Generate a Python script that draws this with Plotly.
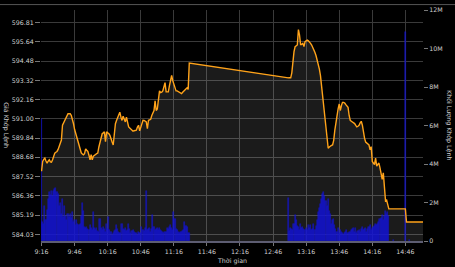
import pandas as pd
import plotly.graph_objects as go

DAY = "2024-01-01 "

# ---- price (Giá Khớp Lệnh) ----
am_price_start = "09:16"
am_price = [587.84, 588.43, 588.55, 588.63, 588.45, 588.33, 588.45, 588.53, 588.40, 588.38,
            588.53, 588.80, 588.93, 588.98, 589.03, 589.15, 589.32, 589.50, 589.72, 590.61,
            590.75, 590.85, 591.00, 591.20, 591.30, 591.30, 591.30, 591.20, 591.00, 590.70,
            590.35, 590.10, 589.90, 589.65, 589.45, 589.20, 588.95, 588.88, 588.83, 588.90,
            589.19, 589.10, 589.03, 588.80, 588.53, 588.83, 588.53, 588.75, 588.83, 588.85,
            588.90, 588.93, 589.30, 589.60, 589.95, 590.10, 590.15, 590.21, 589.62, 590.21,
            590.15, 590.11, 590.00, 589.85, 589.60, 589.42, 590.10, 590.70, 590.90, 591.05,
            591.20, 591.40, 591.10, 590.90, 591.16, 590.95, 590.81, 591.10, 590.80, 590.51,
            590.45, 590.40, 590.30, 590.25, 590.28, 590.30, 590.31, 590.50, 590.61, 590.27,
            590.50, 590.75, 590.91, 590.90, 590.85, 590.81, 590.41, 590.91, 590.94, 590.97,
            591.20, 591.40, 591.50, 592.09, 591.50, 591.59, 592.10, 592.68, 592.58, 592.60,
            592.68, 592.90, 593.18, 592.62, 592.62, 592.62, 593.00, 593.40, 593.61, 593.30,
            593.08, 592.80, 592.68, 592.68, 592.65, 592.58, 592.55, 592.52, 592.60, 592.68,
            592.75, 592.85, 592.87, 592.77, 594.36]
pm_price_start = "13:00"
pm_price = [593.47, 593.47, 593.47, 593.77, 594.60, 595.05, 595.35, 595.40, 595.45, 596.38,
            596.04, 595.45, 595.50, 595.55, 595.35, 595.65, 595.70, 595.74, 595.70, 595.65,
            595.55, 595.45, 595.30, 595.25, 595.00, 594.80, 594.56, 594.30, 594.00, 593.60,
            593.00, 592.50, 591.70, 591.00, 590.30, 589.80, 589.22, 589.30, 589.37, 589.40,
            589.42, 589.70, 590.30, 590.80, 591.30, 591.60, 591.89, 591.50, 591.80, 591.99,
            591.99, 591.95, 591.85, 591.80, 591.70, 591.20, 590.91, 590.85, 590.81, 590.75,
            590.71, 590.60, 590.51, 590.55, 590.61, 590.75, 590.85, 590.61, 590.10, 589.82,
            589.60, 589.52, 589.45, 589.42, 589.13, 589.32, 588.43, 588.30, 588.24, 588.63,
            588.14, 588.25, 588.33, 588.04, 587.70, 587.35, 587.74, 586.85, 586.06, 586.10,
            585.77, 585.57]
close_times = ["14:46", "14:47", "15:03"]
close_price = [585.57, 584.78, 584.78]

# ---- volume (Khối Lượng Khớp Lệnh), millions ----
ato_time, ato_vol = "09:16", 6.34
am_vol_start = "09:17"
am_vol = [0.98, 0.90, 1.84, 1.07, 1.60, 2.18, 2.52, 2.40, 2.60, 2.35, 2.60, 2.69, 2.77, 2.52,
          2.43, 1.84, 2.00, 1.41, 2.18, 1.24, 1.84, 1.30, 1.07, 1.41, 1.24, 1.41, 1.20, 1.49,
          0.98, 1.10, 0.82, 1.07, 0.90, 0.82, 0.90, 1.30, 2.00, 1.58, 0.73, 0.65, 0.73, 0.60,
          0.56, 0.82, 0.70, 0.56, 1.49, 0.65, 0.56, 0.65, 0.50, 0.47, 1.16, 0.70, 0.56, 0.73,
          0.60, 0.47, 0.90, 0.60, 1.24, 0.56, 0.45, 0.31, 0.39, 0.50, 0.56, 0.82, 0.60, 0.47,
          0.39, 0.39, 0.90, 0.60, 0.56, 0.65, 0.50, 0.56, 0.90, 0.60, 0.39, 0.50, 0.56, 0.47,
          0.40, 0.39, 0.31, 0.47, 0.40, 0.39, 0.73, 0.56, 0.50, 0.65, 2.60, 0.56, 0.60, 0.65,
          0.47, 0.60, 1.33, 0.73, 0.56, 0.60, 0.65, 0.55, 0.65, 0.56, 0.50, 0.47, 0.39, 0.45,
          0.47, 0.65, 0.60, 0.73, 0.82, 0.65, 0.56, 1.49, 1.16, 0.60, 0.56, 0.47, 0.39, 0.45,
          0.47, 0.50, 0.56, 0.98, 0.80, 0.73, 0.39, 0.39]
pm_vol_start = "13:00"
pm_vol = [2.26, 0.50, 0.65, 0.60, 0.56, 0.90, 1.33, 1.07, 0.80, 0.73, 0.56, 0.90, 0.65, 0.73,
          0.60, 0.56, 0.65, 0.56, 0.82, 0.70, 0.82, 0.56, 0.60, 0.90, 0.56, 0.80, 1.07, 1.49,
          1.70, 1.92, 2.18, 2.43, 2.52, 2.35, 2.09, 1.84, 2.18, 1.58, 1.41, 0.90, 1.07, 1.16,
          0.82, 0.60, 0.47, 0.65, 0.39, 0.56, 0.47, 0.40, 0.31, 0.39, 0.45, 0.56, 0.39, 0.45,
          0.47, 0.56, 0.60, 0.65, 0.47, 0.65, 0.39, 0.50, 0.56, 0.47, 0.60, 0.73, 0.56, 0.60,
          0.65, 0.47, 0.60, 0.73, 0.82, 0.56, 0.65, 0.73, 0.80, 0.90, 0.82, 0.90, 0.98, 1.16,
          1.20, 1.33, 1.07, 1.30, 1.58, 1.41, 1.49, 1.30]
late_vol_times = ["14:35", "14:46", "14:50"]
late_vol = [0.06, 10.85, 0.06]

# ---- axes ----
price_ticks = [584.03, 585.19, 586.36, 587.52, 588.68, 589.84, 591.00, 592.16,
               593.32, 594.48, 595.64, 596.81]
vol_ticks = [0, 2, 4, 6, 8, 10, 12]
vol_tick_text = ["0", "2M", "4M", "6M", "8M", "10M", "12M"]
x_tick_labels = ["9:16", "9:46", "10:16", "10:46", "11:16", "11:46", "12:16",
                 "12:46", "13:16", "13:46", "14:16", "14:46"]


def minutes(start, n):
    return list(pd.date_range(DAY + start, periods=n, freq="1min"))


def ts(hhmm):
    return pd.Timestamp(DAY + hhmm)


price_t = minutes(am_price_start, len(am_price)) + minutes(pm_price_start, len(pm_price)) + [ts(t) for t in close_times]
price_v = am_price + pm_price + close_price

vol_t = [ts(ato_time)] + minutes(am_vol_start, len(am_vol)) + minutes(pm_vol_start, len(pm_vol)) + [ts(t) for t in late_vol_times]
vol_v = [ato_vol] + am_vol + pm_vol + late_vol

x_tick_vals = [ts(("0" + l) if len(l) == 4 else l) for l in x_tick_labels]

PRICE_RANGE = [583.63, 597.56]
FONT = "DejaVu Sans"
TXT = "#cfcfcf"
FS = 6.3
BAR = "rgba(22,22,215,0.70)"

fig = go.Figure()
fig.add_trace(go.Scatter(x=price_t, y=price_v, mode="none", fill="tozeroy",
                         fillcolor="rgba(255,255,255,0.105)", yaxis="y",
                         hoverinfo="skip", showlegend=False))
fig.add_trace(go.Bar(x=vol_t, y=vol_v, width=60000, yaxis="y2",
                     marker=dict(color=BAR, line=dict(width=0.6, color=BAR)),
                     showlegend=False))
fig.add_trace(go.Scatter(x=price_t, y=price_v, mode="lines", yaxis="y3",
                         line=dict(color="#FFA31A", width=1.4), showlegend=False))

fig.update_layout(
    width=455, height=267,
    margin=dict(l=41, r=32, t=6, b=26),
    paper_bgcolor="#000000", plot_bgcolor="#000000",
    font=dict(family=FONT, size=FS, color=TXT),
    bargap=0,
    xaxis=dict(type="date", range=[ts("09:15:30"), ts("15:02:00")],
               tickvals=x_tick_vals, ticktext=x_tick_labels,
               showgrid=True, gridcolor="#3a3a3a", gridwidth=1,
               showline=True, linecolor="#5d5d72", linewidth=2,
               ticks="outside", ticklen=3, tickcolor="#777",
               tickfont=dict(family=FONT, size=FS, color=TXT), zeroline=False),
    yaxis=dict(range=PRICE_RANGE, tickvals=price_ticks,
               ticktext=[f"{v:.2f}" for v in price_ticks],
               showgrid=True, gridcolor="#3a3a3a", gridwidth=1, zeroline=False,
               ticks="outside", ticklen=5, tickcolor="#777",
               tickfont=dict(family=FONT, size=FS, color=TXT), side="left"),
    yaxis2=dict(range=[0, 12], overlaying="y", side="right", tickvals=vol_ticks,
                ticktext=vol_tick_text, showgrid=False, zeroline=False,
                ticks="outside", ticklen=4, tickcolor="#777",
                tickfont=dict(family=FONT, size=FS, color=TXT)),
    yaxis3=dict(range=PRICE_RANGE, overlaying="y", visible=False),
    annotations=[
        dict(text="Giá Khớp Lệnh", xref="paper", yref="paper", x=-0.092, y=0.502,
             xanchor="center", yanchor="middle",
             textangle=90, showarrow=False, font=dict(family=FONT, size=FS, color=TXT)),
        dict(text="Khối Lượng Khớp Lệnh", xref="paper", yref="paper", x=1.068, y=0.502,
             xanchor="center", yanchor="middle",
             textangle=90, showarrow=False, font=dict(family=FONT, size=FS, color=TXT)),
        dict(text="Thời gian", xref="paper", yref="paper", x=0.5, y=-0.087,
             xanchor="center", yanchor="middle",
             showarrow=False, font=dict(family=FONT, size=FS, color=TXT)),
    ],
    shapes=[dict(type="line", xref="paper", yref="paper", x0=-0.2, x1=1.2,
                 y0=1.0235, y1=1.0235, line=dict(color="#555", width=1))],
)

fig.write_html("out.html")
